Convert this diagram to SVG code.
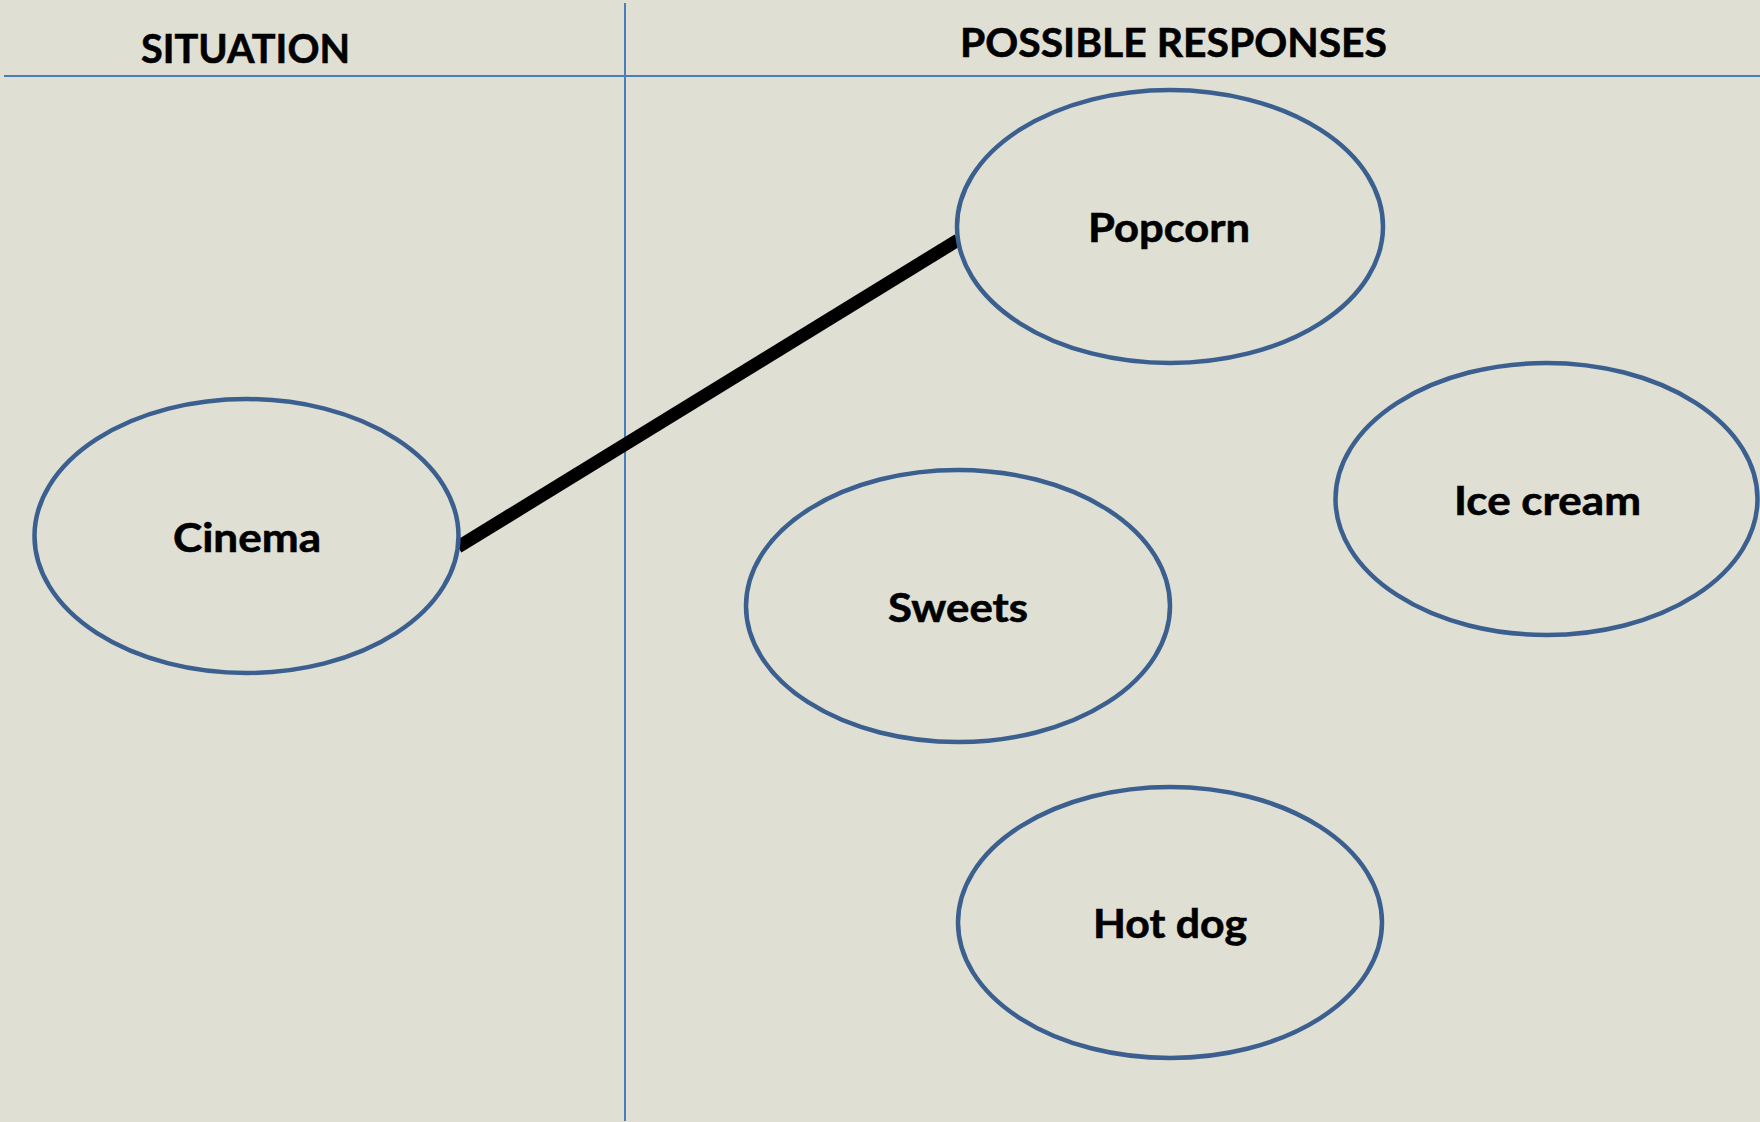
<svg xmlns="http://www.w3.org/2000/svg" width="1760" height="1122" viewBox="0 0 1760 1122">
<style>
.bg{fill:#DFDFD4}
.rule{stroke:#4A7EBB;stroke-width:2;fill:none}
.node{fill:#DFDFD4;stroke:#3B5F8E;stroke-width:4.5}
.lbl{font-family:Lato,"Open Sans","Liberation Sans",sans-serif;font-weight:bold;font-size:41px;fill:#000;stroke:#000;stroke-width:0.6;text-anchor:middle}
.conn{stroke:#000;stroke-width:13;stroke-linecap:butt;fill:none}
</style>
<rect class="bg" x="0" y="0" width="1760" height="1122"/>
<g id="frame">
<line class="rule" x1="4" y1="76" x2="1760" y2="76"/>
<line class="rule" x1="625" y1="3" x2="625" y2="1121"/>
<text class="lbl" x="245.5" y="63" textLength="209" lengthAdjust="spacingAndGlyphs">SITUATION</text>
<text class="lbl" x="1173.5" y="57" textLength="427" lengthAdjust="spacingAndGlyphs">POSSIBLE RESPONSES</text>
</g>
<g id="connectors">
<line class="conn" x1="458" y1="547" x2="958" y2="240"/>
</g>
<g id="cinema">
<ellipse class="node" cx="246.5" cy="536" rx="212" ry="137"/>
<text class="lbl" x="247" y="552" textLength="148" lengthAdjust="spacingAndGlyphs">Cinema</text>
</g>
<g id="popcorn">
<ellipse class="node" cx="1170" cy="226.5" rx="213" ry="136.5"/>
<text class="lbl" x="1169" y="242" textLength="162" lengthAdjust="spacingAndGlyphs">Popcorn</text>
</g>
<g id="icecream">
<ellipse class="node" cx="1546.5" cy="499" rx="211" ry="136"/>
<text class="lbl" x="1547.5" y="515" textLength="187" lengthAdjust="spacingAndGlyphs">Ice cream</text>
</g>
<g id="sweets">
<ellipse class="node" cx="958" cy="606" rx="212" ry="136"/>
<text class="lbl" x="958" y="622" textLength="140" lengthAdjust="spacingAndGlyphs">Sweets</text>
</g>
<g id="hotdog">
<ellipse class="node" cx="1170" cy="922.5" rx="212" ry="135.5"/>
<text class="lbl" x="1170" y="938" textLength="154" lengthAdjust="spacingAndGlyphs">Hot dog</text>
</g>
</svg>
